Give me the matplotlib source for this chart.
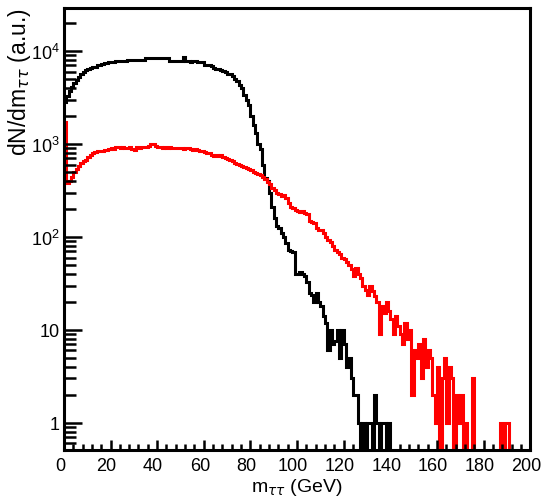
import numpy as np
import matplotlib
matplotlib.use("Agg")
import matplotlib.pyplot as plt
from matplotlib.ticker import FixedLocator, MultipleLocator, NullFormatter, LogLocator
from matplotlib.transforms import ScaledTranslation

plt.rcParams['font.family'] = ['Liberation Sans', 'DejaVu Sans']
plt.rcParams['mathtext.fontset'] = 'custom'
plt.rcParams['mathtext.rm'] = 'Liberation Sans'
plt.rcParams['mathtext.it'] = 'DejaVu Sans:italic'
plt.rcParams['mathtext.bf'] = 'Liberation Sans:bold'

# 1 GeV bins from 0 to 200 GeV
bin_edges = np.arange(0, 201, 1)

# Black histogram (bin contents, arbitrary units)
black_counts = [
    2800, 3300, 3700, 4100, 4500, 4900, 5300, 5700, 6000, 6200,
    6400, 6500, 6700, 6800, 7000, 7100, 7300, 7400, 7500, 7600,
    7700, 7700, 7800, 7800, 7800, 7900, 7900, 8000, 8000, 8000,
    8000, 8100, 8000, 8100, 8100, 8400, 8400, 8400, 8400, 8500,
    8500, 8500, 8400, 8500, 8400, 7800, 7800, 7900, 7800, 7800,
    7900, 8600, 7800, 7800, 7700, 7800, 7800, 7700, 7700, 7600,
    7100, 7000, 7000, 6900, 6500, 6400, 6400, 6200, 6100, 6000,
    5700, 5600, 5400, 5000, 4700, 4300, 4000, 3400, 3000, 2600,
    2000, 1600, 1300, 1000, 880, 600, 430, 400, 300, 210,
    160, 130, 125, 110, 100, 85, 72, 70, 68, 40,
    40, 42, 40, 38, 33, 25, 24, 20, 25, 20,
    18, 14, 12, 6, 10, 7, 7.5, 10, 5, 10,
    7, 4, 5, 3, 2, 2, 1, 0, 1, 0,
    1, 1, 0, 2, 1, 0, 1, 1, 0, 1,
] + [0] * 60

# Red histogram (bin contents, arbitrary units)
red_counts = [
    1740, 380, 400, 440, 500, 540, 580, 620, 650, 680,
    720, 760, 800, 820, 830, 840, 850, 860, 870, 880,
    900, 890, 930, 920, 900, 930, 900, 910, 920, 890,
    870, 920, 900, 930, 920, 930, 960, 1000, 1000, 960,
    920, 920, 910, 920, 910, 920, 900, 910, 900, 910,
    900, 890, 910, 900, 880, 870, 880, 860, 850, 830,
    810, 800, 790, 770, 750, 760, 740, 760, 720, 700,
    690, 670, 650, 630, 610, 590, 580, 560, 550, 540,
    520, 500, 490, 480, 460, 440, 420, 390, 370, 340,
    320, 300, 290, 275, 280, 260, 230, 210, 205, 195,
    190, 185, 190, 180, 175, 150, 145, 140, 125, 120,
    118, 110, 100, 92, 88, 80, 72, 68, 65, 60,
    58, 54, 50, 45, 38, 46, 40, 36, 30, 27,
    24, 30, 26, 23, 20, 9, 18, 15, 20, 16,
    13, 9, 14, 11, 9, 7, 12, 8, 10, 2,
    6, 5, 7, 3, 8, 4, 6, 5, 2, 1,
    4, 0, 3, 5, 1, 4, 3, 0, 2, 1,
    2, 0, 1, 0, 0, 3, 0, 0, 0, 0,
    0, 0, 0, 0, 0, 0, 0, 1, 0, 1,
    1, 0, 0, 0, 0, 0, 0, 0, 0, 0,
]

x_ticks = [0, 20, 40, 60, 80, 100, 120, 140, 160, 180, 200]
y_ticks = [1, 10, 100, 1000, 10000]
y_tick_labels = ['1', '10', r'$10^{2}$', r'$10^{3}$', r'$10^{4}$']

fig = plt.figure(figsize=(5.46, 5.02), dpi=100)
ax = fig.add_axes([0.117, 0.1016, 0.854, 0.8804])

ax.stairs(black_counts, bin_edges, baseline=None, color='black', linewidth=2.2)
ax.stairs(red_counts, bin_edges, baseline=None, color='#ff0000', linewidth=2.2)

ax.set_yscale('log')
ax.set_xlim(0, 200)
ax.set_ylim(0.51, 29000)

ax.xaxis.set_major_locator(FixedLocator(x_ticks))
ax.xaxis.set_minor_locator(MultipleLocator(4))
ax.set_xticklabels([str(t) for t in x_ticks])
ax.yaxis.set_major_locator(FixedLocator(y_ticks))
ax.set_yticklabels(y_tick_labels)
ax.yaxis.set_minor_locator(LogLocator(base=10, subs=np.arange(2, 10)))
ax.yaxis.set_minor_formatter(NullFormatter())

ax.tick_params(axis='x', which='major', direction='in', length=7.5, width=1.8,
               labelsize=13, pad=5, top=False)
ax.tick_params(axis='x', which='minor', direction='in', length=4, width=1.8, top=False)
ax.tick_params(axis='y', which='major', direction='in', length=13, width=1.8,
               labelsize=13, pad=3, right=False)
ax.tick_params(axis='y', which='minor', direction='in', length=8.5, width=1.8, right=False)

for lab in ax.get_xticklabels():
    lab.set_transform(lab.get_transform() + ScaledTranslation(-0.04, 0, fig.dpi_scale_trans))

for spine in ax.spines.values():
    spine.set_linewidth(2.2)

fig.text(297 / 546, 1 - 488 / 502, r'm$_{\tau\tau}$ (GeV)', ha='center', va='center',
         fontsize=14)
fig.text(20 / 546, 1 - 8 / 502, r'dN/dm$_{\tau\tau}$ (a.u.)', ha='center', va='top',
         rotation=90, fontsize=16.5)

fig.savefig('out.png', dpi=100)
